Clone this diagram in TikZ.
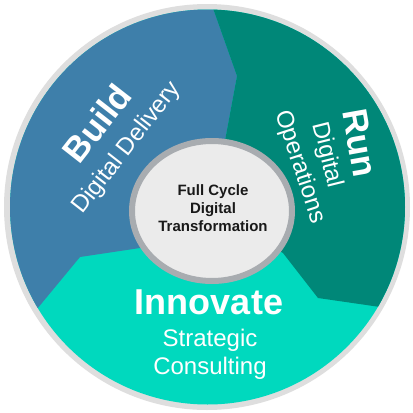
\documentclass[tikz,border=0pt]{standalone}
\usepackage{fontspec}
\setmainfont{Liberation Sans}
\begin{document}
\begin{tikzpicture}[x=1pt,y=-1pt,
  title/.style={text=white,font=\bfseries\fontsize{35}{35}\selectfont,inner sep=0pt},
  sub/.style={text=white,font=\fontsize{24}{24}\selectfont,inner sep=0pt},
  hub/.style={text=black!90,font=\bfseries\fontsize{15}{18.3}\selectfont,align=center,inner sep=0pt}]
\definecolor{buildc}{HTML}{3E7FAA}
\definecolor{runc}{HTML}{008778}
\definecolor{innovc}{HTML}{00D9BE}
\definecolor{rimc}{HTML}{DEDEDE}
\definecolor{hubfill}{HTML}{EBEBEB}
\definecolor{hubring}{HTML}{A8ACB0}
\useasboundingbox (0,0) rectangle (413,413);
\fill[white] (0,0) rectangle (413,413);
\fill[rimc] (207,207) circle[radius=203pt];
\begin{scope}
\clip (207.5,207) circle[radius=197.5pt];
\fill[innovc] (0,0) rectangle (413,413);
\fill[buildc] (203,-20) -- (237,76) -- (212,211) -- (140,248) -- (80,257) -- (37,309) -- (-20,378) -- (-20,-20) -- cycle;
\fill[runc] (203,-20) -- (237,76) -- (212,211) -- (283,253) -- (318,298) -- (387,308) -- (450,317) -- (450,-20) -- cycle;
\end{scope}
\draw[hubring,line width=6pt,fill=hubfill] (212,211) ellipse [x radius=80pt, y radius=70pt];
\node[hub] (hub) at (213,208) {Full Cycle\\Digital\\Transformation};
\node[title,rotate=52] (build) at (97,123) {Build};
\node[sub,rotate=52] (buildsub) at (127,148) {Digital Delivery};
\node[title,rotate=-80] (run) at (360,143) {Run};
\node[sub,rotate=-76] (runsub1) at (327,155) {Digital};
\node[sub,rotate=-72] (runsub2) at (300,167) {Operations};
\node[title,font=\bfseries\fontsize{36}{36}\selectfont] (innov) at (209,302) {Innovate};
\node[sub] (innovsub1) at (210,340) {Strategic};
\node[sub] (innovsub2) at (210,368) {Consulting};
\end{tikzpicture}
\end{document}
